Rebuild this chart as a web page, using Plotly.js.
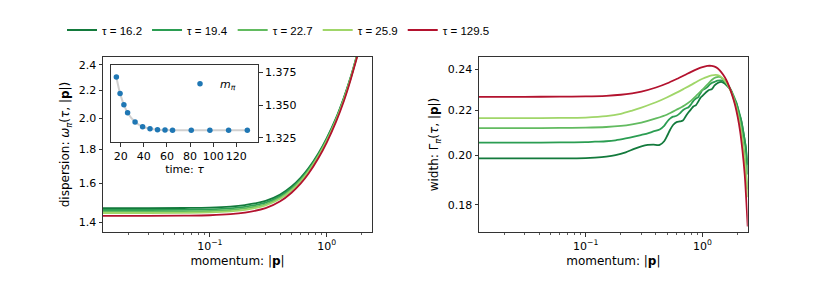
<!DOCTYPE html>
<html><head><meta charset="utf-8">
<script src="https://cdn.plot.ly/plotly-3.0.1.min.js"></script>
<style>html,body{margin:0;padding:0;background:#fff}#chart{width:830px;height:291px}</style>
</head><body><div id="chart"></div>
<script>
// ---- data ----
const tauNames = ['16.2', '19.4', '22.7', '25.9', '129.5'];
const colors = ['#137a3c', '#2b9d52', '#62bb60', '#a0d669', '#b3122e'];

// dispersion omega_pi(tau,|p|)
const pDisp = [0.0122, 0.03, 0.06, 0.1, 0.15, 0.2, 0.3, 0.4, 0.5, 0.6, 0.7, 0.85, 1.0, 1.2, 1.4, 1.6, 1.8, 2.0, 2.2, 2.44];
const disp162 = [1.470, 1.470, 1.471, 1.473, 1.478, 1.486, 1.507, 1.540, 1.583, 1.632, 1.686, 1.774, 1.868, 2.000, 2.145, 2.300, 2.470, 2.640, 2.820, 3.040];
const disp194 = [1.461, 1.461, 1.462, 1.464, 1.469, 1.477, 1.498, 1.532, 1.575, 1.624, 1.679, 1.767, 1.861, 1.994, 2.139, 2.295, 2.465, 2.635, 2.815, 3.035];
const disp227 = [1.453, 1.453, 1.454, 1.456, 1.461, 1.469, 1.490, 1.524, 1.568, 1.618, 1.672, 1.761, 1.855, 1.989, 2.134, 2.291, 2.461, 2.631, 2.811, 3.031];
const disp259 = [1.446, 1.446, 1.447, 1.449, 1.454, 1.462, 1.484, 1.518, 1.562, 1.612, 1.666, 1.756, 1.850, 1.984, 2.129, 2.287, 2.457, 2.627, 2.807, 3.027];
const disp1295 = [1.432, 1.432, 1.433, 1.435, 1.440, 1.448, 1.470, 1.505, 1.550, 1.600, 1.655, 1.745, 1.840, 1.975, 2.120, 2.280, 2.450, 2.620, 2.800, 3.020];

// width Gamma_pi(tau,|p|)
const pSmooth = [0.0122, 0.03, 0.06, 0.1, 0.15, 0.2, 0.25, 0.3, 0.4, 0.5, 0.6, 0.7, 0.8, 0.9, 1.0, 1.1, 1.2, 1.3, 1.4, 1.5, 1.6, 1.7, 1.8, 1.9, 2.0, 2.1, 2.2, 2.3, 2.44];
const width1295 = [0.2263, 0.2263, 0.2264, 0.2265, 0.2268, 0.2273, 0.2280, 0.2288, 0.2308, 0.2329, 0.2350, 0.2369, 0.2386, 0.2400, 0.2410, 0.2416, 0.2416, 0.2410, 0.2395, 0.2372, 0.2345, 0.2310, 0.2270, 0.2225, 0.2170, 0.2105, 0.2020, 0.1920, 0.1720];
const width259 = [0.2163, 0.2163, 0.2164, 0.2166, 0.2172, 0.2183, 0.2198, 0.2212, 0.2237, 0.2261, 0.2283, 0.2303, 0.2321, 0.2338, 0.2351, 0.2361, 0.2368, 0.2371, 0.2366, 0.2352, 0.2332, 0.2305, 0.2272, 0.2233, 0.2185, 0.2128, 0.2058, 0.1975, 0.1830];
const width227 = [0.2118, 0.2118, 0.2119, 0.2120, 0.2123, 0.2128, 0.2135, 0.2143, 0.2162, 0.2180, 0.2202, 0.2222, 0.2245, 0.2272, 0.2298, 0.2322, 0.2345, 0.2358, 0.2360, 0.2350, 0.2333, 0.2308, 0.2278, 0.2240, 0.2195, 0.2140, 0.2075, 0.1995, 0.1860];
const pWig = [0.0122, 0.03, 0.06, 0.1, 0.12, 0.15, 0.18, 0.22, 0.26, 0.3, 0.34, 0.38, 0.43, 0.47, 0.5, 0.53, 0.56, 0.6, 0.64, 0.68, 0.72, 0.76, 0.8, 0.84, 0.88, 0.92, 0.96, 1.0, 1.05, 1.1, 1.15, 1.2, 1.27, 1.35, 1.45, 1.55, 1.65, 1.75, 1.85, 1.95, 2.05, 2.15, 2.25, 2.35, 2.44];
const width194 = [0.2054, 0.2054, 0.2055, 0.2056, 0.2058, 0.2060, 0.2064, 0.2072, 0.2080, 0.2088, 0.2095, 0.2103, 0.2112, 0.2128, 0.2148, 0.2162, 0.2170, 0.2174, 0.2185, 0.2200, 0.2208, 0.2214, 0.2228, 0.2245, 0.2255, 0.2262, 0.2280, 0.2295, 0.2302, 0.2310, 0.2322, 0.2330, 0.2336, 0.2342, 0.2343, 0.2336, 0.2320, 0.2298, 0.2268, 0.2235, 0.2195, 0.2150, 0.2095, 0.2030, 0.1920];
const width162 = [0.1987, 0.1987, 0.1987, 0.1988, 0.1990, 0.1994, 0.2000, 0.2012, 0.2027, 0.2038, 0.2044, 0.2045, 0.2044, 0.2060, 0.2085, 0.2112, 0.2132, 0.2145, 0.2148, 0.2152, 0.2172, 0.2190, 0.2205, 0.2218, 0.2224, 0.2240, 0.2258, 0.2268, 0.2280, 0.2290, 0.2297, 0.2300, 0.2318, 0.2330, 0.2336, 0.2328, 0.2312, 0.2294, 0.2258, 0.2234, 0.2188, 0.2152, 0.2092, 0.2035, 0.1960];

// inset: pion mass vs time
const tauInset = [16.2, 19.4, 22.7, 25.9, 32.4, 38.9, 45.3, 51.8, 58.3, 64.8, 81.0, 97.1, 113.3, 129.5];
const mPi = [1.3714, 1.3589, 1.3502, 1.3441, 1.3370, 1.3334, 1.3319, 1.3311, 1.3309, 1.3307, 1.3307, 1.3307, 1.3307, 1.3307];

// tick labels
const xTickVals = [0.1, 1];
const xTickText = ['10<sup>−1</sup>', '10<sup>0</sup>'];
const xMinor = [0.02, 0.03, 0.04, 0.05, 0.06, 0.07, 0.08, 0.09, 0.2, 0.3, 0.4, 0.5, 0.6, 0.7, 0.8, 0.9, 2];
const dispTicks = [1.4, 1.6, 1.8, 2.0, 2.2, 2.4];
const dispTickText = ['1.4', '1.6', '1.8', '2.0', '2.2', '2.4'];
const widthTicks = [0.18, 0.20, 0.22, 0.24];
const widthTickText = ['0.18', '0.20', '0.22', '0.24'];
const insetXTicks = [20, 40, 60, 80, 100, 120];
const insetYTicks = [1.325, 1.35, 1.375];
const insetYTickText = ['1.325', '1.350', '1.375'];

// ---- figure ----
const FONT = 'DejaVu Sans, Verdana, sans-serif';
const H = 232; // plot-area height in px (margin top 0, bottom 59)
const LEGEND_LEFT = 62;
const LEGEND_TEXT_LEFT = 102;
const dispSeries = [disp162, disp194, disp227, disp259, disp1295];
const widthX = [pWig, pWig, pSmooth, pSmooth, pSmooth];
const widthSeries = [width162, width194, width227, width259, width1295];

const traces = [];
dispSeries.forEach((ys, i) => traces.push({
  x: pDisp, y: ys, xaxis: 'x', yaxis: 'y', type: 'scatter', mode: 'lines',
  name: 'τ = ' + tauNames[i], line: {color: colors[i], width: 1.8, shape: 'spline', smoothing: 1},
  legend: 'legend', showlegend: true
}));
widthSeries.forEach((ys, i) => traces.push({
  x: widthX[i], y: ys, xaxis: 'x2', yaxis: 'y2', type: 'scatter', mode: 'lines',
  name: 'τ = ' + tauNames[i], line: {color: colors[i], width: 1.8, shape: 'spline', smoothing: 0.8},
  showlegend: false
}));
traces.push({x: tauInset, y: mPi, xaxis: 'x3', yaxis: 'y3', type: 'scatter', mode: 'lines',
  line: {color: 'rgba(170,170,170,0.55)', width: 2, shape: 'spline'}, showlegend: false});
traces.push({x: tauInset, y: mPi, xaxis: 'x3', yaxis: 'y3', type: 'scatter', mode: 'markers',
  name: '<i>m</i><sub><i>π</i></sub>', marker: {color: '#1f77b4', size: 5.5},
  legend: 'legend2', showlegend: true});

const axisBase = {
  showline: true, mirror: true, linecolor: '#333', linewidth: 1,
  ticks: 'outside', ticklen: 3.5, tickwidth: 1, tickcolor: '#333',
  showgrid: false, zeroline: false, automargin: false,
  tickfont: {family: FONT, size: 11, color: '#000'}
};
const logX = (dom, anchor) => Object.assign({}, axisBase, {
  type: 'log', domain: dom, anchor: anchor,
  range: [Math.log10(0.0122), Math.log10(2.44)],
  tickmode: 'array', tickvals: xTickVals, ticktext: xTickText,
  minor: {tickmode: 'array', tickvals: xMinor, ticks: 'outside', ticklen: 2, tickwidth: 0.8, tickcolor: '#333', showgrid: false},
  title: {text: 'momentum: |<b>p</b>|', font: {family: FONT, size: 12, color: '#000'}, standoff: 4}
});

const layout = {
  width: 830, height: 291,
  margin: {l: 0, r: 0, t: 0, b: 59, pad: 0},
  paper_bgcolor: '#fff', plot_bgcolor: '#fff',
  font: {family: FONT, size: 11, color: '#000'},
  xaxis: logX([103 / 830, 372 / 830], 'y'),
  yaxis: Object.assign({}, axisBase, {
    type: 'log', domain: [0, 175 / H], anchor: 'x',
    range: [Math.log10(1.355), Math.log10(2.466)],
    tickmode: 'array', tickvals: dispTicks, ticktext: dispTickText,
    title: {text: 'dispersion: <i>ω</i><sub><i>π</i></sub>(<i>τ</i>, |<b>p</b>|)', font: {family: FONT, size: 12, color: '#000'}, standoff: 6}
  }),
  xaxis2: logX([479 / 830, 747.7 / 830], 'y2'),
  yaxis2: Object.assign({}, axisBase, {
    type: 'log', domain: [0, 175 / H], anchor: 'x2',
    range: [Math.log10(0.1700), Math.log10(0.2462)],
    tickmode: 'array', tickvals: widthTicks, ticktext: widthTickText,
    title: {text: 'width: Γ<sub><i>π</i></sub>(<i>τ</i>, |<b>p</b>|)', font: {family: FONT, size: 12, color: '#000'}, standoff: 6}
  }),
  xaxis3: Object.assign({}, axisBase, {
    domain: [110.7 / 830, 258.3 / 830], anchor: 'y3',
    range: [11.3, 139], tickmode: 'array', tickvals: insetXTicks,
    title: {text: 'time: <i>τ</i>', font: {family: FONT, size: 11, color: '#000'}, standoff: 3}
  }),
  yaxis3: Object.assign({}, axisBase, {
    domain: [(H - 142.3) / H, (H - 65) / H], anchor: 'x3', side: 'right',
    range: [1.3215, 1.3806], tickmode: 'array', tickvals: insetYTicks, ticktext: insetYTickText
  }),
  legend: {
    orientation: 'h', x: LEGEND_LEFT / 830, xanchor: 'left', y: (H - 30) / H, yanchor: 'middle',
    font: {family: 'Liberation Sans, Arial, sans-serif', size: 11.5, color: '#000'},
    bgcolor: 'rgba(0,0,0,0)', borderwidth: 0, tracegroupgap: 0
  },
  legend2: {
    x: 180 / 830, xanchor: 'left', y: (H - 83.7) / H, yanchor: 'middle',
    font: {family: FONT, size: 11, color: '#000'}, bgcolor: 'rgba(0,0,0,0)', borderwidth: 0
  }
};

const gdDiv = document.getElementById('chart');
function alignLegend() {
  const g = gdDiv.querySelector('g.legend');
  if (!g) return;
  const t = g.querySelector('text.legendtext');
  if (!t) return;
  const host = gdDiv.getBoundingClientRect();
  const delta = LEGEND_TEXT_LEFT - (t.getBoundingClientRect().left - host.left);
  if (!isFinite(delta) || Math.abs(delta) <= 1) return;
  const m = /translate\(\s*([-\d.e]+)[ ,]+([-\d.e]+)\s*\)/.exec(g.getAttribute('transform') || '');
  const tx = m ? parseFloat(m[1]) : 0;
  const ty = m ? parseFloat(m[2]) : 0;
  g.setAttribute('transform', 'translate(' + (tx + delta) + ',' + ty + ')');
}

Plotly.newPlot(gdDiv, traces, layout, {staticPlot: true, displayModeBar: false}).then(gd => {
  alignLegend();
  gd.on('plotly_afterplot', alignLegend);
  const obs = new MutationObserver(() => alignLegend());
  obs.observe(gd, {subtree: true, childList: true, attributes: true, attributeFilter: ['transform', 'x']});
  requestAnimationFrame(alignLegend);
  [30, 100, 250, 500, 1000].forEach(ms => setTimeout(alignLegend, ms));
});
</script></body></html>
